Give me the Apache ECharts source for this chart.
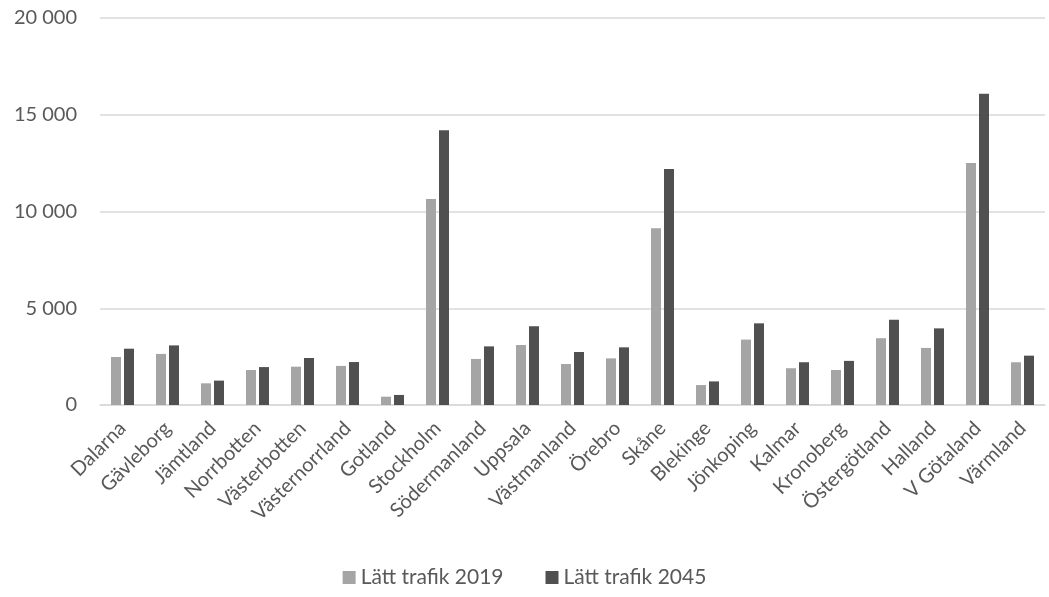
<!DOCTYPE html>
<html>
<head>
<meta charset="utf-8">
<script src="https://cdn.jsdelivr.net/npm/echarts@6/dist/echarts.min.js"></script>
<style>
  html, body { margin: 0; padding: 0; background: #ffffff; }
  #chart { width: 1049px; height: 597px; }
</style>
</head>
<body>
<div id="chart"></div>
<script>
// Regions (län)
const categories = [
  'Dalarna', 'Gävleborg', 'Jämtland', 'Norrbotten', 'Västerbotten', 'Västernorrland',
  'Gotland', 'Stockholm', 'Södermanland', 'Uppsala', 'Västmanland', 'Örebro',
  'Skåne', 'Blekinge', 'Jönkoping', 'Kalmar', 'Kronoberg', 'Östergötland',
  'Halland', 'V Götaland', 'Värmland'
];

// Light traffic per region
const traffic2019 = [
  2480, 2640, 1120, 1810, 1980, 2020,
  430, 10650, 2380, 3100, 2120, 2410,
  9140, 1030, 3380, 1900, 1810, 3450,
  2950, 12510, 2210
];
const traffic2045 = [
  2910, 3080, 1260, 1960, 2430, 2220,
  520, 14200, 3030, 4070, 2740, 2980,
  12200, 1220, 4220, 2210, 2280, 4410,
  3960, 16080, 2550
];

const seriesNames = ['Lätt trafik 2019', 'Lätt trafik 2045'];

// Y axis range and tick step
const yMin = 0;
const yMax = 20000;
const yStep = 5000;

const fontFamily = 'Lato, "Open Sans", sans-serif';
const textColor = '#595959';
const gridColor = '#d9d9d9';

function formatThousands(v) {
  return String(v).replace(/\B(?=(\d{3})+(?!\d))/g, ' ');
}

const chart = echarts.init(document.getElementById('chart'));
chart.setOption({
  backgroundColor: '#ffffff',
  animation: false,
  grid: { left: 100, right: 4, top: 18, bottom: 192 },
  legend: {
    data: seriesNames,
    bottom: 4,
    left: 'center',
    itemWidth: 13,
    itemHeight: 13,
    itemGap: 42,
    icon: 'rect',
    textStyle: { color: textColor, fontSize: 21, fontFamily: fontFamily }
  },
  xAxis: {
    type: 'category',
    data: categories,
    axisLine: { lineStyle: { color: gridColor, width: 1.5 } },
    axisTick: { show: false },
    axisLabel: {
      rotate: 45,
      interval: 0,
      margin: 20,
      color: textColor,
      fontSize: 20,
      fontFamily: fontFamily
    }
  },
  yAxis: {
    type: 'value',
    min: yMin,
    max: yMax,
    interval: yStep,
    axisLine: { show: false },
    axisTick: { show: false },
    splitLine: { lineStyle: { color: gridColor, width: 1.5 } },
    axisLabel: {
      margin: 23,
      color: textColor,
      fontSize: 20,
      fontFamily: fontFamily,
      formatter: formatThousands
    }
  },
  series: [
    {
      name: seriesNames[0],
      type: 'bar',
      data: traffic2019,
      barWidth: 10,
      barGap: '30%',
      itemStyle: { color: '#a5a5a5' }
    },
    {
      name: seriesNames[1],
      type: 'bar',
      data: traffic2045,
      barWidth: 10,
      itemStyle: { color: '#505050' }
    }
  ]
});
</script>
</body>
</html>
